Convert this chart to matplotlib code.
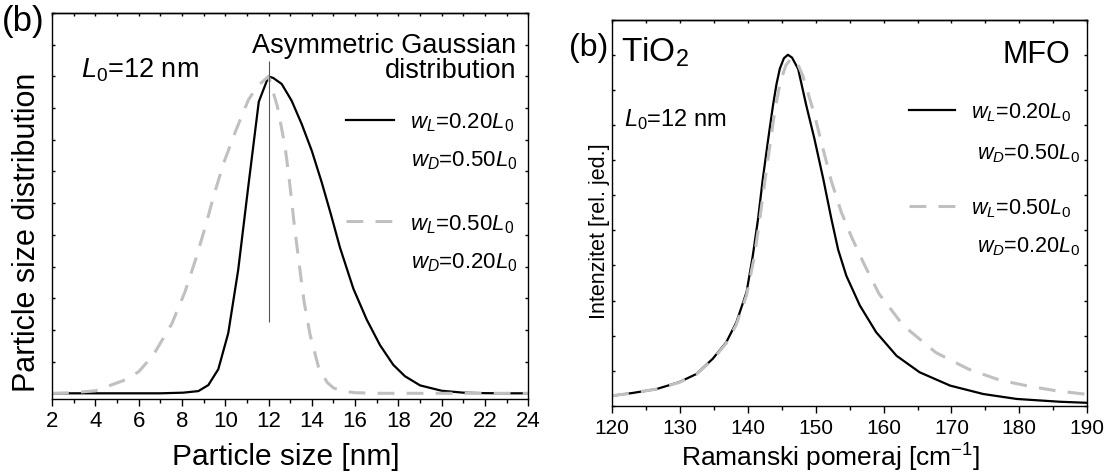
import matplotlib
matplotlib.use("Agg")
import matplotlib.pyplot as plt
from matplotlib.ticker import MultipleLocator, NullFormatter

plt.rcParams["font.family"] = ["Liberation Sans", "DejaVu Sans"]
plt.rcParams["mathtext.fontset"] = "custom"
plt.rcParams["mathtext.rm"] = "Liberation Sans"
plt.rcParams["mathtext.it"] = "Liberation Sans:italic"
plt.rcParams["mathtext.bf"] = "Liberation Sans:bold"

# ---- left panel: particle size distributions (L0 = 12 nm) ----
L0 = 12.0
size_black = [2, 4, 6, 7, 8.06, 8.76, 9.22, 9.68, 10.14, 10.6, 11.06, 11.55, 12.0,
              12.22, 12.61, 13.07, 13.53, 14.0, 14.46, 14.88, 15.3, 15.92, 16.54,
              17.15, 17.76, 18.3, 19.0, 20.0, 21.0, 22.0, 23.0, 24.0]
dist_black = [0, 0, 0, 0, 0.002, 0.007, 0.026, 0.076, 0.19, 0.39, 0.65, 0.92, 1.0,
              0.995, 0.976, 0.923, 0.85, 0.765, 0.665, 0.565, 0.46, 0.33, 0.232,
              0.152, 0.09, 0.054, 0.025, 0.008, 0.002, 0.0005, 0, 0]

size_gray = [2, 3, 4, 5.29, 6.0, 6.68, 7.53, 8.14, 8.64, 9.1, 9.48, 9.94, 10.5,
             11.07, 11.5, 12.0, 12.41, 12.76, 12.95, 13.2, 13.45, 13.64, 13.92,
             14.3, 14.7, 15.0, 15.46, 16.0, 17.0, 24.0]
dist_gray = [0, 0.002, 0.008, 0.04, 0.068, 0.121, 0.219, 0.32, 0.424, 0.53, 0.626,
             0.729, 0.831, 0.926, 0.97, 1.0, 0.905, 0.78, 0.68, 0.525, 0.39, 0.29,
             0.185, 0.085, 0.035, 0.017, 0.006, 0.002, 0, 0]

marker_line = [0.224, 1.049]  # thin vertical line at L0

# ---- right panel: Raman spectra ----
shift_black = [120, 123, 126.5, 129.9, 132.4, 134.8, 136.8, 138.3, 139.8, 140.7,
               141.5, 142.2, 143.0, 143.7, 144.2, 144.7, 145.3, 145.9, 146.5, 147.4,
               148.6, 149.8, 151.1, 152.3, 153.3, 154.5, 156.5, 158.9, 161.9, 165.3,
               169.8, 174.7, 179.6, 186.0, 190.0]
int_black = [0.029, 0.037, 0.048, 0.068, 0.091, 0.134, 0.181, 0.238, 0.324, 0.425,
             0.533, 0.647, 0.761, 0.856, 0.915, 0.960, 0.99, 1.0, 0.992, 0.96,
             0.856, 0.761, 0.647, 0.533, 0.445, 0.371, 0.286, 0.21, 0.143, 0.096,
             0.058, 0.034, 0.020, 0.012, 0.009]

shift_gray = [120, 123, 126.5, 129.9, 132.4, 134.8, 136.8, 138.3, 139.8, 140.9,
              141.7, 142.5, 143.3, 144.0, 144.8, 145.6, 146.4, 147.2, 148.1, 149.8,
              151.1, 152.3, 153.8, 155.3, 157.1, 159.3, 162.9, 167.7, 172.5, 177.2,
              181.8, 185.5, 190.0]
int_gray = [0.029, 0.037, 0.048, 0.067, 0.09, 0.132, 0.178, 0.232, 0.315, 0.42,
            0.525, 0.64, 0.75, 0.845, 0.925, 0.97, 0.99, 0.98, 0.94, 0.83, 0.73,
            0.64, 0.55, 0.48, 0.405, 0.32, 0.229, 0.152, 0.105, 0.073, 0.055,
            0.043, 0.033]

label_a = [r"$w_L$=0.20$L_0$", r"$w_D$=0.50$L_0$"]
label_b = [r"$w_L$=0.50$L_0$", r"$w_D$=0.20$L_0$"]

GRAY = "#c0c0c0"
solid = dict(color="black", lw=1.6)
dashed = dict(color=GRAY, lw=2.2, ls=(0, (5.5, 4)))


def style(ax, major, minor, labelsize, pad):
    ax.xaxis.set_major_locator(MultipleLocator(major))
    ax.xaxis.set_minor_locator(MultipleLocator(minor))
    ax.yaxis.set_major_locator(MultipleLocator(0.1))
    ax.tick_params(axis="x", which="both", direction="out", top=False,
                   labelsize=labelsize, pad=pad, width=1)
    ax.tick_params(axis="x", which="major", length=5)
    ax.tick_params(axis="x", which="minor", length=3)
    ax.tick_params(axis="y", which="both", direction="in", left=True, right=True,
                   labelleft=False, length=2.5, width=1)
    for s in ax.spines.values():
        s.set_linewidth(1)
    top = ax.secondary_xaxis("top")
    top.xaxis.set_major_locator(MultipleLocator(major))
    top.xaxis.set_minor_locator(MultipleLocator(minor))
    top.xaxis.set_major_formatter(NullFormatter())
    top.tick_params(axis="x", which="both", direction="in", length=2.5, width=1)
    top.spines["top"].set_linewidth(1)


fig = plt.figure(figsize=(11.05, 4.77), dpi=100)
ax1 = fig.add_axes([0.0471, 0.1614, 0.4310, 0.8092])
ax2 = fig.add_axes([0.5540, 0.1468, 0.4299, 0.8099])

# left panel
h1, = ax1.plot(size_black, dist_black, **solid)
h2, = ax1.plot(size_gray, dist_gray, **dashed)
ax1.vlines(L0, marker_line[0], marker_line[1], color="#555555", lw=0.8)
ax1.set_xlim(2, 24)
ax1.set_ylim(-0.018, 1.2)
style(ax1, 2, 1, 16, 3)
ax1.set_xlabel("Particle size [nm]", fontsize=21.5, va="baseline")
ax1.xaxis.set_label_coords(0.491, -0.168)
ax1.set_ylabel("Particle size distribution", fontsize=22, va="baseline")
ax1.yaxis.set_label_coords(-0.036, 0.435)

ax1.text(0.974, 0.898, "Asymmetric Gaussian", ha="right", va="baseline",
         fontsize=19.5, transform=ax1.transAxes)
ax1.text(0.974, 0.833, "distribution", ha="right", va="baseline",
         fontsize=19.5, transform=ax1.transAxes)
ax1.text(0.06, 0.836, r"$L_0$=12 nm", ha="left", va="baseline",
         fontsize=19.5, transform=ax1.transAxes)

leg_kw = dict(loc="center left", frameon=False, borderpad=0, borderaxespad=0)
lg = ax1.legend([h1], [label_a[0]], bbox_to_anchor=(0.6164, 0.718), fontsize=16,
                handlelength=2.2, handletextpad=0.71, **leg_kw)
ax1.add_artist(lg)
ax1.legend([h2], [label_b[0]], bbox_to_anchor=(0.6164, 0.455), fontsize=16,
           handlelength=2.2, handletextpad=0.71, **leg_kw)
ax1.text(0.7527, 0.604, label_a[1], ha="left", va="baseline", fontsize=16,
         transform=ax1.transAxes)
ax1.text(0.7527, 0.341, label_b[1], ha="left", va="baseline", fontsize=16,
         transform=ax1.transAxes)

# right panel
g1, = ax2.plot(shift_black, int_black, **solid)
g2, = ax2.plot(shift_gray, int_gray, **dashed)
ax2.set_xlim(120, 190)
ax2.set_ylim(0, 1.1)
style(ax2, 10, 5, 15, 4)
ax2.set_xlabel(r"Ramanski pomeraj [cm$^{-1}$]", fontsize=19, va="baseline")
ax2.xaxis.set_label_coords(0.459, -0.1545)
ax2.set_ylabel("Intenzitet [rel. jed.]", fontsize=15.5, va="baseline")
ax2.yaxis.set_label_coords(-0.015, 0.456)

ax2.text(0.018, 0.894, r"TiO$_2$", ha="left", va="baseline", fontsize=24,
         transform=ax2.transAxes)
ax2.text(0.965, 0.89, "MFO", ha="right", va="baseline", fontsize=22,
         transform=ax2.transAxes)
ax2.text(0.025, 0.726, r"$L_0$=12 nm", ha="left", va="baseline", fontsize=17,
         transform=ax2.transAxes)

lg = ax2.legend([g1], [label_a[0]], bbox_to_anchor=(0.6248, 0.762), fontsize=15.5,
                handlelength=2.14, handletextpad=0.74, **leg_kw)
ax2.add_artist(lg)
ax2.legend([g2], [label_b[0]], bbox_to_anchor=(0.6248, 0.5136), fontsize=15.5,
           handlelength=2.14, handletextpad=0.74, **leg_kw)
ax2.text(0.767, 0.641, label_a[1], ha="left", va="baseline", fontsize=15.5,
         transform=ax2.transAxes)
ax2.text(0.767, 0.401, label_b[1], ha="left", va="baseline", fontsize=15.5,
         transform=ax2.transAxes)

fig.text(0.002, 0.935, "(b)", fontsize=25, va="baseline")
fig.text(0.515, 0.882, "(b)", fontsize=23, va="baseline")

fig.savefig("out.png", dpi=100)
